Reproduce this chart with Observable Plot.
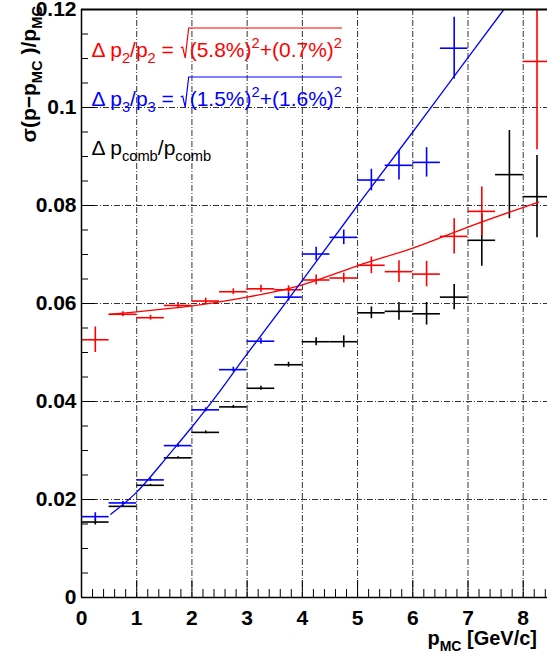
<!DOCTYPE html>
<html><head><meta charset="utf-8">
<script src="https://cdn.jsdelivr.net/npm/d3@7"></script>
<script src="https://cdn.jsdelivr.net/npm/@observablehq/plot@0.6"></script>
<style>
html,body{margin:0;padding:0;background:#fff;}
#chart{width:547px;height:661px;overflow:hidden;}
</style></head><body><div id="chart"></div>
<script>
// ---- data ----
const binCenters = [0.25,0.75,1.25,1.75,2.25,2.75,3.25,3.75,4.25,4.75,5.25,5.75,6.25,6.75,7.25,7.75,8.25];
const binHalfWidth = 0.25;

const p2Values = [0.0526,0.0578,0.0571,0.0596,0.0605,0.0624,0.0630,0.0628,0.0648,0.0652,0.0678,0.0665,0.0660,0.0737,0.0788,null,0.1094];
const p2Errors = [0.0026,0.0005,0.0005,0.0006,0.0006,0.0006,0.0007,0.0008,0.0010,0.0010,0.0017,0.0022,0.0026,0.0036,0.0050,null,0.0180];

const p3Values = [0.0165,0.0193,0.0240,0.0310,0.0383,0.0465,0.0523,0.0613,0.0701,0.0735,0.0852,0.0882,0.0888,0.1121,null,null,null];
const p3Errors = [0.0008,0.0003,0.0003,0.0004,0.0004,0.0005,0.0006,0.0008,0.0014,0.0015,0.0022,0.0030,0.0030,0.0063,null,null,null];

const combValues = [0.0154,0.0186,0.0229,0.0285,0.0337,0.0389,0.0427,0.0475,0.0522,0.0522,0.0581,0.0584,0.0579,0.0613,0.0729,0.0863,0.0818];
const combErrors = [0.0006,0.0002,0.0002,0.0002,0.0003,0.0003,0.0004,0.0005,0.0008,0.0012,0.0012,0.0018,0.0023,0.0026,0.0053,0.0090,0.0084];

// fit curves
const p2FitX = [0.5,1,2,3,4,5,6,7,8.28];
const p2FitY = [0.0578,0.0583,0.0595,0.0613,0.0638,0.0677,0.0713,0.0756,0.0807];
const p3FitX = [0.53,1,1.5,2,2.5,3,4,5,6,7,7.65];
const p3FitY = [0.0170,0.0215,0.0280,0.0348,0.0420,0.0497,0.0647,0.0800,0.0950,0.1102,0.1200];

// ticks
const xTicks = [0,1,2,3,4,5,6,7,8];
const xTickLabels = ["0","1","2","3","4","5","6","7","8"];
const yTicks = [0,0.02,0.04,0.06,0.08,0.1,0.12];
const yTickLabels = ["0","0.02","0.04","0.06","0.08","0.1","0.12"];
const xMinorTicks = [0.2,0.4,0.6,0.8,1.2,1.4,1.6,1.8,2.2,2.4,2.6,2.8,3.2,3.4,3.6,3.8,4.2,4.4,4.6,4.8,5.2,5.4,5.6,5.8,6.2,6.4,6.6,6.8,7.2,7.4,7.6,7.8,8.2,8.4];
const yMinorTicks = [0.005,0.01,0.015,0.025,0.03,0.035,0.045,0.05,0.055,0.065,0.07,0.075,0.085,0.09,0.095,0.105,0.11,0.115];
const xGrid = [1,2,3,4,5,6,7,8];
const yGrid = [0.02,0.04,0.06,0.08,0.1];

const colorP2 = "#ff0000", colorP3 = "#0000ff", colorComb = "#000000";

// ---- build ----
function rows(vals, errs){
  return binCenters.map((x,i)=>({x, y: vals[i], e: errs[i]})).filter(d=>d.y!=null);
}
function errMarks(data, color){
  return [
    Plot.ruleY(data, {y:"y", x1: d=>d.x-binHalfWidth, x2: d=>d.x+binHalfWidth, stroke: color, strokeWidth: 1.6, clip: true}),
    Plot.ruleX(data, {x:"x", y1: d=>d.y-d.e, y2: d=>d.y+d.e, stroke: color, strokeWidth: 1.6, clip: true})
  ];
}
const W = 547, H = 661, mL = 81, mR = 0, mT = 9, mB = 64;
const frameW = W - mL - mR, frameH = H - mT - mB;
const grid = {stroke: "#333", strokeWidth: 1, strokeDasharray: "6,2,1,2"};

const plot = Plot.plot({
  width: W, height: H,
  marginLeft: mL, marginRight: mR, marginTop: mT, marginBottom: mB,
  style: {fontFamily: "'Liberation Sans', Arial, sans-serif", background: "white", color: "black", overflow: "visible"},
  x: {domain: [0, 8.44]},
  y: {domain: [0, 0.12]},
  marks: [
    Plot.ruleX(xGrid, {x: d=>d, ...grid}),
    Plot.ruleY(yGrid, {y: d=>d, ...grid}),
    Plot.tickY(yMinorTicks, {y: d=>d, insetRight: frameW - 7, stroke: "black"}),
    Plot.tickY(yTicks, {y: d=>d, insetRight: frameW - 14, stroke: "black"}),
    Plot.tickX(xMinorTicks, {x: d=>d, insetTop: frameH - 8, stroke: "black"}),
    Plot.tickX(xTicks, {x: d=>d, insetTop: frameH - 17, stroke: "black"}),
    Plot.axisX(xTicks, {tickSize: 0, tickPadding: 13, fontSize: 21, fontWeight: "bold", label: null,
      tickFormat: d => xTickLabels[xTicks.indexOf(d)]}),
    Plot.axisY(yTicks, {tickSize: 0, tickPadding: 5, fontSize: 21, fontWeight: "bold", label: null,
      tickFormat: d => yTickLabels[yTicks.indexOf(d)]}),
    ...errMarks(rows(combValues, combErrors), colorComb),
    ...errMarks(rows(p2Values, p2Errors), colorP2),
    ...errMarks(rows(p3Values, p3Errors), colorP3),
    Plot.line(p2FitX.map((x,i)=>({x, y: p2FitY[i]})), {x:"x", y:"y", stroke: colorP2, strokeWidth: 1.3, curve: "natural", clip: true}),
    Plot.line(p3FitX.map((x,i)=>({x, y: p3FitY[i]})), {x:"x", y:"y", stroke: colorP3, strokeWidth: 1.3, curve: "natural", clip: true}),
    Plot.ruleX([0], {stroke: "black", strokeWidth: 1.5}),
    Plot.ruleY([0], {stroke: "black", strokeWidth: 1.5}),
    Plot.ruleY([0.12], {stroke: "black", strokeWidth: 2})
  ]
});
document.getElementById("chart").appendChild(plot);

// ---- annotations (legend, axis titles) ----
const sx = plot.scale("x"), sy = plot.scale("y");
const svg = d3.select(plot);
const FONT = "'Liberation Sans', Arial, sans-serif";

function rich(g, x, y, parts, size, color, weight, anchor){
  const t = g.append("text").attr("x", x).attr("y", y)
    .attr("font-family", FONT).attr("font-size", size).attr("fill", color)
    .attr("font-weight", weight || "normal").attr("text-anchor", anchor || "start");
  let cur = 0;
  parts.forEach(p => {
    const s = typeof p === "string" ? {t: p} : p;
    let shift = 0, fs = size;
    if (s.sub) { shift = size*0.28; fs = size*0.7; }
    if (s.sup) { shift = -size*0.45; fs = size*0.7; }
    t.append("tspan").attr("dy", shift - cur).attr("font-size", fs).text(s.t);
    cur = shift;
  });
  return t;
}

const legendSize = 21;
const legend = [
  {color: colorP2, y: 0.1102, pre: ["\u0394 p", {t:"2", sub:true}, "/p", {t:"2", sub:true}, " = "], rad: ["(5.8%)", {t:"2", sup:true}, "+(0.7%)", {t:"2", sup:true}]},
  {color: colorP3, y: 0.1002, pre: ["\u0394 p", {t:"3", sub:true}, "/p", {t:"3", sub:true}, " = "], rad: ["(1.5%)", {t:"2", sup:true}, "+(1.6%)", {t:"2", sup:true}]},
  {color: colorComb, y: 0.0902, pre: ["\u0394 p", {t:"comb", sub:true}, "/p", {t:"comb", sub:true}], rad: null}
];
const lg = svg.append("g");
const x0 = sx.apply(0.19);
legend.forEach(L => {
  const yb = sy.apply(L.y);
  const t1 = rich(lg, x0, yb, L.pre, legendSize, L.color);
  if (L.rad) {
    const w1 = t1.node().getBBox().width;
    const rx = x0 + w1 + 1;
    const t2 = rich(lg, rx + 9, yb, L.rad, legendSize, L.color);
    const w2 = t2.node().getBBox().width;
    const top = yb - 29;
    lg.append("path")
      .attr("d", `M${rx},${yb-9}L${rx+2},${yb-10}L${rx+4.5},${yb+1}L${rx+8},${top}L${rx+9+w2},${top}`)
      .attr("fill", "none").attr("stroke", L.color).attr("stroke-width", 1.2);
  }
});

// x title
rich(svg, 537, 645, ["p", {t:"MC", sub:true}, " [GeV/c]"], 20, "black", "bold", "end");
// y title
const yt = svg.append("g").attr("transform", "translate(36,6) rotate(-90)");
rich(yt, 0, 0, ["\u03c3(p\u2212p", {t:"MC", sub:true}, " )/p", {t:"MC", sub:true}], 21, "black", "bold", "end");
</script>
</body></html>
